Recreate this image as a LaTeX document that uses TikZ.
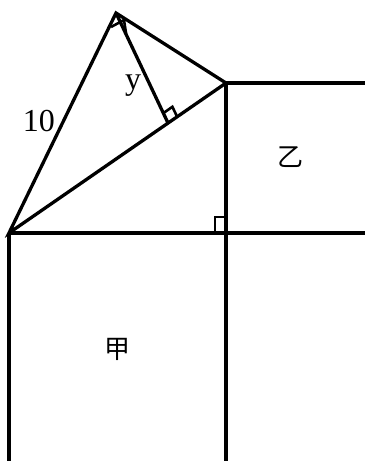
\documentclass[tikz,border=0pt]{standalone}
\usepackage{fontspec}
\setmainfont{Liberation Serif}
\newfontfamily\cjk{Noto Sans CJK TC}
\begin{document}
\begin{tikzpicture}[x=1pt,y=-1pt,
  edge/.style={line width=3.3pt,line join=miter},
  ramark/.style={line width=2.6pt},
  lbl/.style={font=\fontsize{32}{32}\selectfont,inner sep=0pt},
  cjklbl/.style={font=\cjk\fontsize{26}{26}\selectfont,inner sep=0pt}]
\useasboundingbox (0,0) rectangle (365,461);
\coordinate (A) at (9,233);
\coordinate (T) at (116,13);
\coordinate (R) at (226,83);
\coordinate (F) at (168,123);
\coordinate (Rend) at (365,83);
\coordinate (Hend) at (365,233);
\coordinate (B) at (226,233);
\coordinate (Aend) at (9,461);
\coordinate (Bend) at (226,461);
% triangle
\draw[edge] (A) -- (T) -- (R) -- cycle;
\draw[edge] (T) -- (F);
% squares
\draw[edge] (R) -- (Rend);
\draw[edge] (A) -- (Hend);
\draw[edge] (A) -- (Aend);
\draw[edge] (R) -- (Bend);
% right angle marks
\draw[ramark] (B) ++(-11,0) -- ++(0,-16) -- ++(11,0);
\draw[ramark] (163.4,113.1) -- (172.4,106.8) -- (177.1,116.7);
\draw[ramark] (111,27) -- (124,20) -- (126,33);
% labels
\node[lbl] (ten) at (39,121) {10};
\node[lbl] (why) at (133,86) {y};
\node[cjklbl] (yi) at (290,157) {乙};
\node[cjklbl] (jia) at (117,349) {甲};
\end{tikzpicture}
\end{document}
